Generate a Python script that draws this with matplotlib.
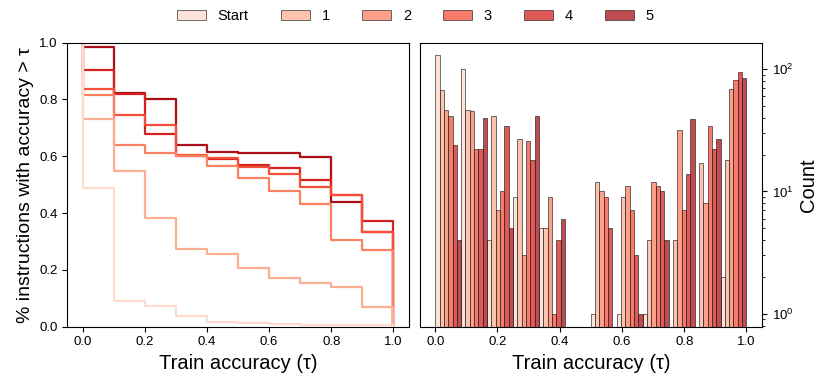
import numpy as np
import matplotlib
matplotlib.use("Agg")
import matplotlib.pyplot as plt

plt.rcParams['font.family'] = ['Liberation Sans', 'DejaVu Sans']
plt.rcParams['mathtext.fontset'] = 'custom'
plt.rcParams['mathtext.rm'] = 'Liberation Sans'
plt.rcParams['mathtext.it'] = 'Liberation Sans:italic'

# --- data ---------------------------------------------------------------
labels = ["Start", "1", "2", "3", "4", "5"]

# left: fraction of instructions with train accuracy > tau (one value per 0.1 step)
tau = [0.0, 0.1, 0.2, 0.3, 0.4, 0.5, 0.6, 0.7, 0.8, 0.9, 1.0]
frac_start = [0.487, 0.092, 0.074, 0.039, 0.018, 0.013, 0.009, 0.007, 0.007, 0.007]
frac_1 = [0.732, 0.547, 0.381, 0.273, 0.256, 0.207, 0.170, 0.155, 0.140, 0.070]
frac_2 = [0.816, 0.638, 0.610, 0.602, 0.566, 0.522, 0.479, 0.432, 0.304, 0.271]
frac_3 = [0.836, 0.746, 0.709, 0.605, 0.595, 0.563, 0.536, 0.493, 0.462, 0.332]
frac_4 = [0.904, 0.818, 0.680, 0.600, 0.590, 0.570, 0.560, 0.518, 0.462, 0.373]
frac_5 = [0.984, 0.822, 0.803, 0.640, 0.615, 0.612, 0.610, 0.596, 0.439, 0.332]

# right: histogram counts, 12 bins over [0, 1]
bin_edges = np.linspace(0, 1, 13)
count_start = [129, 100, 4, 9, 5, 0, 1, 1, 1, 0, 0, 2]
count_1 = [67, 46, 41, 27, 5, 0, 12, 9, 4, 4, 17, 18]
count_2 = [46, 45, 7, 3, 9, 0, 10, 11, 12, 32, 8, 69]
count_3 = [41, 22, 10, 26, 1, 0, 9, 7, 11, 7, 34, 82]
count_4 = [24, 22, 34, 18, 4, 0, 5, 3, 10, 14, 22, 94]
count_5 = [4, 40, 5, 41, 6, 0, 0, 1, 4, 39, 27, 84]

fracs = [frac_start, frac_1, frac_2, frac_3, frac_4, frac_5]
counts = [count_start, count_1, count_2, count_3, count_4, count_5]

colors = plt.cm.Reds(np.linspace(0, 1, len(labels) + 2)[1:-1])

fig = plt.figure(figsize=(8.31, 3.88), dpi=100)
ax1 = fig.add_axes([0.081, 0.158, 0.411, 0.732])
ax2 = fig.add_axes([0.505, 0.158, 0.412, 0.732])

# left panel: step curves (start at 1.0, drop to 0 at tau = 1)
for i in reversed(range(len(labels))):
    x = [tau[0]] + tau
    y = [1.0] + fracs[i] + [0.0]
    ax1.plot(x, y, drawstyle='steps-post', color=colors[i], lw=1.6)

ax1.set_xlim(-0.05, 1.05)
ax1.set_ylim(0, 1.0)
ax1.set_xticks(np.arange(0, 1.01, 0.2))
ax1.set_yticks(np.arange(0, 1.01, 0.2))
ax1.set_xlabel('Train accuracy (τ)', fontsize=14.5)
ax1.set_ylabel('% instructions with accuracy > τ', fontsize=14)
ax1.tick_params(labelsize=9.5)

# right panel: dodged histogram bars on log scale
bw = (bin_edges[1] - bin_edges[0]) / len(labels)
handles = []
for i, c in enumerate(counts):
    bars = ax2.bar(bin_edges[:-1] + i * bw, c, width=bw, align='edge',
                   color=colors[i], alpha=0.75, edgecolor='#202020', linewidth=0.6,
                   label=labels[i])
    handles.append(bars)

ax2.set_yscale('log')
ax2.set_xlim(-0.05, 1.05)
ax2.set_ylim(0.785, 164)
ax2.set_xticks(np.arange(0, 1.01, 0.2))
ax2.yaxis.tick_right()
ax2.yaxis.set_label_position('right')
ax2.set_xlabel('Train accuracy (τ)', fontsize=14.5)
ax2.set_ylabel('Count', fontsize=14.5)
ax2.tick_params(labelsize=9.5)
ax2.tick_params(axis='y', which='both', left=False, right=True)

fig.legend(handles, labels, loc='upper center', bbox_to_anchor=(0.5, 1.01),
           ncol=6, frameon=False, fontsize=10.5, columnspacing=2.2)

fig.savefig('out.png', dpi=100)
